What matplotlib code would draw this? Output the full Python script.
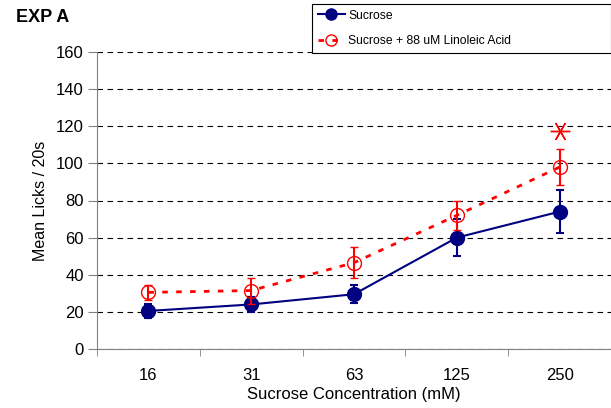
import matplotlib
matplotlib.use('Agg')
import matplotlib.pyplot as plt
from matplotlib.lines import Line2D
import numpy as np

plt.rcParams['font.family'] = ['Liberation Sans', 'DejaVu Sans']

# data
concentrations = ["16", "31", "63", "125", "250"]
sucrose = [20.5, 24, 29.5, 60, 74]
sucrose_err = [4, 4, 4.8, 10, 11.5]
linoleic = [30.5, 31.5, 46.5, 72, 98]
linoleic_err = [4, 7, 8.3, 8, 9.7]
star_idx = 4
star_value = 117.5

navy = '#000080'
red = '#ff0000'

fig = plt.figure(figsize=(6.11, 4.08), dpi=100)
ax = fig.add_axes([97 / 611, 59 / 408, 1 - 97 / 611, 297 / 408])

x = np.arange(len(concentrations))

ax.errorbar(x, sucrose, yerr=sucrose_err, color=navy, marker='o', markersize=10,
            linewidth=1.5, capsize=3, capthick=1.5, elinewidth=1.5, zorder=3)
ax.errorbar(x, linoleic, yerr=linoleic_err, color=red, marker='o', markersize=10,
            markerfacecolor='none', markeredgewidth=1.0, linestyle=(0, (2, 3)), linewidth=2,
            capsize=3, capthick=1.5, elinewidth=1.5, zorder=4)
# significance star
ax.plot(x[star_idx], star_value, marker=(6, 2, 90), color=red, markersize=14,
        markeredgewidth=1, linestyle='none')

ax.set_xlim(-0.5, 4.5 - 6 / 104)
ax.set_ylim(0, 160)
ax.set_yticks(np.arange(0, 161, 20))
ax.yaxis.grid(True, color='black', linestyle=(0, (5, 4)), linewidth=0.8)
ax.set_axisbelow(True)

ax.set_xticks(x)
ax.set_xticklabels(concentrations)
ax.set_xticks(np.arange(-0.5, 5, 1), minor=True)
ax.tick_params(axis='x', which='major', length=0, pad=13.5, labelsize=12)
ax.tick_params(axis='x', which='minor', length=5, direction='out', color='#808080')
ax.tick_params(axis='y', length=6.5, direction='out', color='#808080', labelsize=12, pad=3)

for side in ['top', 'right']:
    ax.spines[side].set_visible(False)
for side in ['left', 'bottom']:
    ax.spines[side].set_color('#808080')

ax.set_xlabel('Sucrose Concentration (mM)', fontsize=12, labelpad=3)
ax.set_ylabel('Mean Licks / 20s', fontsize=11.5, labelpad=6)

fig.text(16 / 611, 1 - 17 / 408, 'EXP A', fontsize=13, fontweight='bold', va='center')

handles = [
    Line2D([], [], color=navy, marker='o', markersize=8, linewidth=1.5),
    Line2D([], [], color=red, marker='o', markersize=8, markerfacecolor='none',
           markeredgewidth=1.0, linestyle=(0, (2, 3)), linewidth=2),
]
labels = ['Sucrose', 'Sucrose + 88 uM Linoleic Acid']
leg = fig.legend(handles, labels, loc='lower left', mode='expand',
                 bbox_to_anchor=(312 / 611, 1 - 53 / 408, 1 - 312 / 611, 48 / 408),
                 fontsize=8.7, frameon=True, fancybox=False, framealpha=1, edgecolor='black',
                 handlelength=2.2, handletextpad=0.3, borderpad=0.5, labelspacing=1.1,
                 borderaxespad=0)
leg.get_frame().set_linewidth(0.8)

fig.savefig('out.png', dpi=100)
